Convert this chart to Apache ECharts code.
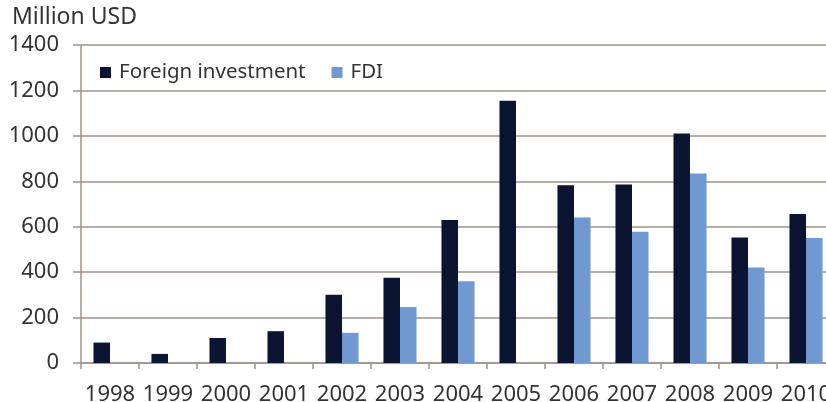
<!DOCTYPE html>
<html>
<head>
<meta charset="utf-8">
<script src="https://cdn.jsdelivr.net/npm/echarts@6/dist/echarts.min.js"></script>
<style>
  html, body { margin: 0; padding: 0; background: #fff; }
  #main { width: 826px; height: 402px; }
</style>
</head>
<body>
<div id="main"></div>
<script>
// data
var years = ["1998", "1999", "2000", "2001", "2002", "2003", "2004", "2005", "2006", "2007", "2008", "2009", "2010"];
var foreignInvestment = [90, 40, 110, 140, 300, 375, 630, 1155, 782, 786, 1010, 552, 656];
var fdi = [null, null, null, null, 133, 246, 360, null, 641, 578, 834, 420, 550];
var yTicks = [0, 200, 400, 600, 800, 1000, 1200, 1400];

var textColor = "#333333";
var lineColor = "#a0938c";
var font = "Noto Sans";

var myChart = echarts.init(document.getElementById("main"));
myChart.setOption({
  backgroundColor: "#ffffff",
  animation: false,
  title: {
    text: "Million USD",
    left: 7,
    top: 1,
    textStyle: { color: textColor, fontSize: 23, fontWeight: "normal", fontFamily: font }
  },
  legend: {
    left: 95,
    top: 57,
    itemWidth: 11,
    itemHeight: 11,
    itemGap: 26,
    icon: "rect",
    textStyle: { color: textColor, fontSize: 20.5, fontFamily: font, padding: [0, 0, 0, 3] },
    data: ["Foreign investment", "FDI"]
  },
  grid: {
    left: 81,
    top: 45,
    width: 754,
    height: 318,
    containLabel: false,
    outerBoundsMode: "none"
  },
  xAxis: {
    type: "category",
    data: years,
    boundaryGap: true,
    axisLine: { lineStyle: { color: lineColor, width: 1.5 } },
    axisTick: { show: true, length: 6, lineStyle: { color: lineColor, width: 1.5 } },
    axisLabel: { color: textColor, fontSize: 22, fontFamily: font, margin: 21, interval: 0 }
  },
  yAxis: {
    type: "value",
    min: yTicks[0],
    max: yTicks[yTicks.length - 1],
    interval: 200,
    axisLine: { show: true, lineStyle: { color: lineColor, width: 1.5 } },
    axisTick: { show: true, length: 8, lineStyle: { color: lineColor, width: 1.5 } },
    axisLabel: {
      color: textColor, fontSize: 22, fontFamily: font, margin: 22,
      formatter: function (v) { return String(v); }
    },
    splitLine: { show: true, lineStyle: { color: lineColor, width: 1.5 } }
  },
  series: [
    {
      name: "Foreign investment",
      type: "bar",
      data: foreignInvestment,
      barGap: "0%",
      barCategoryGap: "43%",
      itemStyle: { color: "#0b1430" }
    },
    {
      name: "FDI",
      type: "bar",
      data: fdi,
      barGap: "0%",
      barCategoryGap: "43%",
      itemStyle: { color: "#7099d1" }
    }
  ]
});
</script>
</body>
</html>
